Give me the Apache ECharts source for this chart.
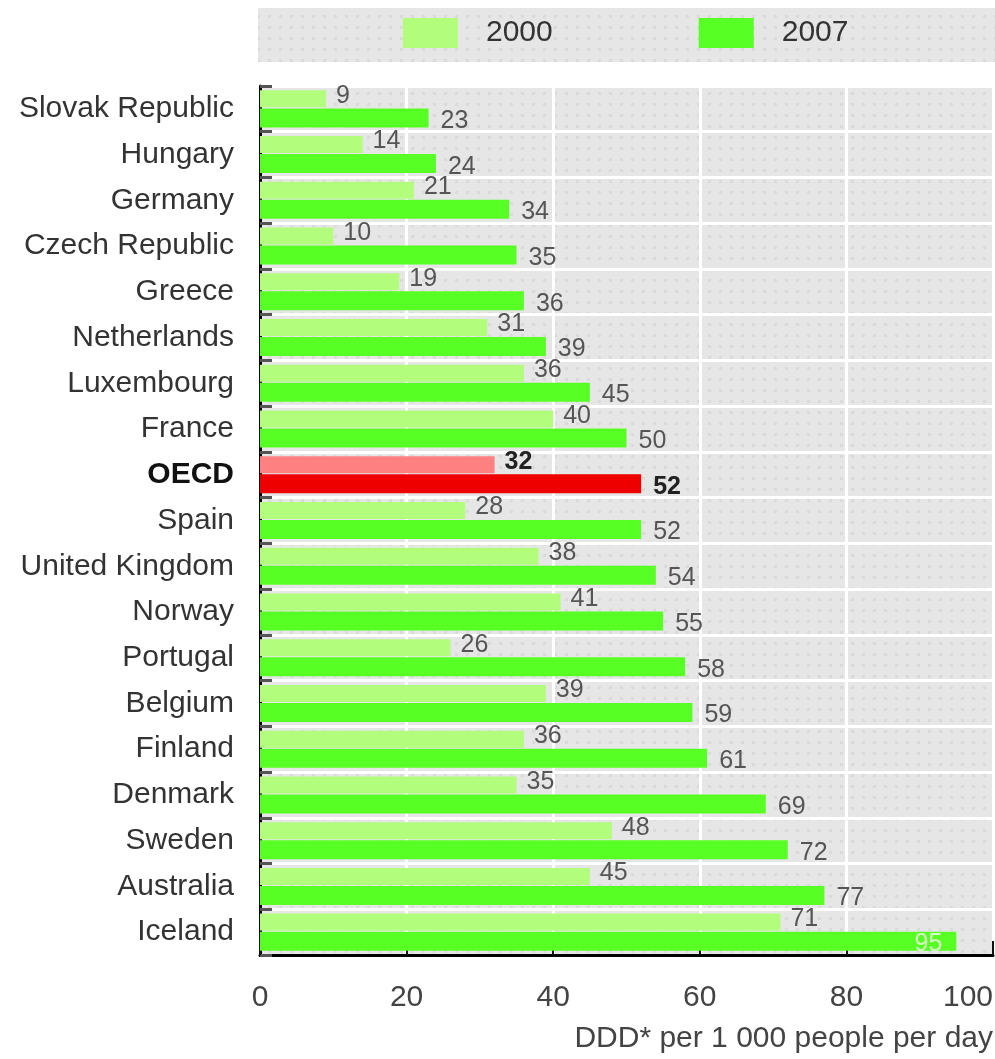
<!DOCTYPE html>
<html><head><meta charset="utf-8">
<script src="https://cdn.jsdelivr.net/npm/echarts@6/dist/echarts.min.js"></script>
<style>html,body{margin:0;padding:0;background:#fff}#c{width:995px;height:1059px}</style>
</head><body><div id="c"></div>
<script>
const categories = ["Slovak Republic","Hungary","Germany","Czech Republic","Greece","Netherlands","Luxembourg","France","OECD","Spain","United Kingdom","Norway","Portugal","Belgium","Finland","Denmark","Sweden","Australia","Iceland"];
const values2000 = [9,14,21,10,19,31,36,40,32,28,38,41,26,39,36,35,48,45,71];
const values2007 = [23,24,34,35,36,39,45,50,52,52,54,55,58,59,61,69,72,77,95];
const seriesNames = ["2000","2007"];
const axisTicks = [0,20,40,60,80,100];
const axisTitle = "DDD* per 1 000 people per day";

const FONT = "'Liberation Sans',Arial,sans-serif";
const C2000 = "#b2fd7c", C2007 = "#58ff24", O2000 = "#ff8080", O2007 = "#ee0000";

function dotPattern(){
  const c = document.createElement('canvas');
  c.width = 11; c.height = 11;
  const g = c.getContext('2d');
  g.fillStyle = '#e6e6e6'; g.fillRect(0,0,11,11);
  g.fillStyle = '#dadada'; g.fillRect(4,4,3,3);
  return {image:c, repeat:'repeat'};
}
const pat = dotPattern();

function mk(vals, light, dy, isLast){
  return vals.map((v,i)=>{
    const o = {value:v};
    if (categories[i]==="OECD"){
      o.itemStyle={color: light ? O2000 : O2007};
      o.label={color:"#222",fontWeight:"bold"};
    }
    if (isLast && v>=90){
      o.label={position:"insideRight",offset:[0,dy],color:"#d8ffc8",distance:14};
    }
    return o;
  });
}

const chart = echarts.init(document.getElementById('c'),null,{renderer:'canvas'});
chart.setOption({
  animation:false,
  backgroundColor:"#fff",
  graphic:[
    {type:'rect',shape:{x:258,y:8,width:737,height:54},style:{fill:pat},z:-10},
    {type:'rect',shape:{x:260,y:86,width:733,height:869},style:{fill:pat},z:-10},
    {type:'text',right:2,top:1024,style:{text:axisTitle,font:"30px "+FONT,fill:'#444',textAlign:'right'}}
  ],
  legend:{
    left:398, top:13, itemWidth:55, itemHeight:30, itemGap:146,
    icon:'rect',
    data:seriesNames,
    textStyle:{fontFamily:FONT,fontSize:30,color:'#333',padding:[0,0,0,23]}
  },
  grid:{left:260,right:2,top:86,bottom:104,show:false,borderWidth:0,outerBoundsMode:'none',containLabel:false},
  xAxis:{
    type:'value',min:0,max:100,interval:20,
    axisLine:{show:true,lineStyle:{color:'#000',width:3}},
    axisTick:{show:true,inside:true,length:14,lineStyle:{color:'#111',width:2}},
    axisLabel:{fontFamily:FONT,fontSize:30,color:'#444',margin:28,alignMaxLabel:'right',
      formatter:v=>axisTicks.includes(v)?String(v):''},
    splitLine:{show:true,lineStyle:{color:'#fff',width:3}}
  },
  yAxis:{
    type:'category',data:categories,inverse:true,
    axisLine:{show:true,lineStyle:{color:'#000',width:3}},
    axisTick:{show:true,inside:true,length:12,lineStyle:{color:'#555',width:3}},
    axisLabel:{fontFamily:FONT,fontSize:30,color:'#333',margin:26,
      formatter:v=>v==="OECD"?"{b|"+v+"}":v,
      rich:{b:{fontFamily:FONT,fontSize:30,fontWeight:'bold',color:'#111'}}},
    splitLine:{show:true,lineStyle:{color:'#fff',width:3}}
  },
  series:[
    {name:seriesNames[0],type:'bar',data:mk(values2000,true,-3,false),
      itemStyle:{color:C2000},barWidth:17,barGap:'6%',
      label:{show:true,position:'right',distance:10,offset:[0,-3],fontFamily:FONT,fontSize:25,color:'#555'}},
    {name:seriesNames[1],type:'bar',data:mk(values2007,false,3,true),
      itemStyle:{color:C2007},barWidth:19,
      label:{show:true,position:'right',distance:12,offset:[0,3],fontFamily:FONT,fontSize:25,color:'#555'}}
  ]
});
</script></body></html>
